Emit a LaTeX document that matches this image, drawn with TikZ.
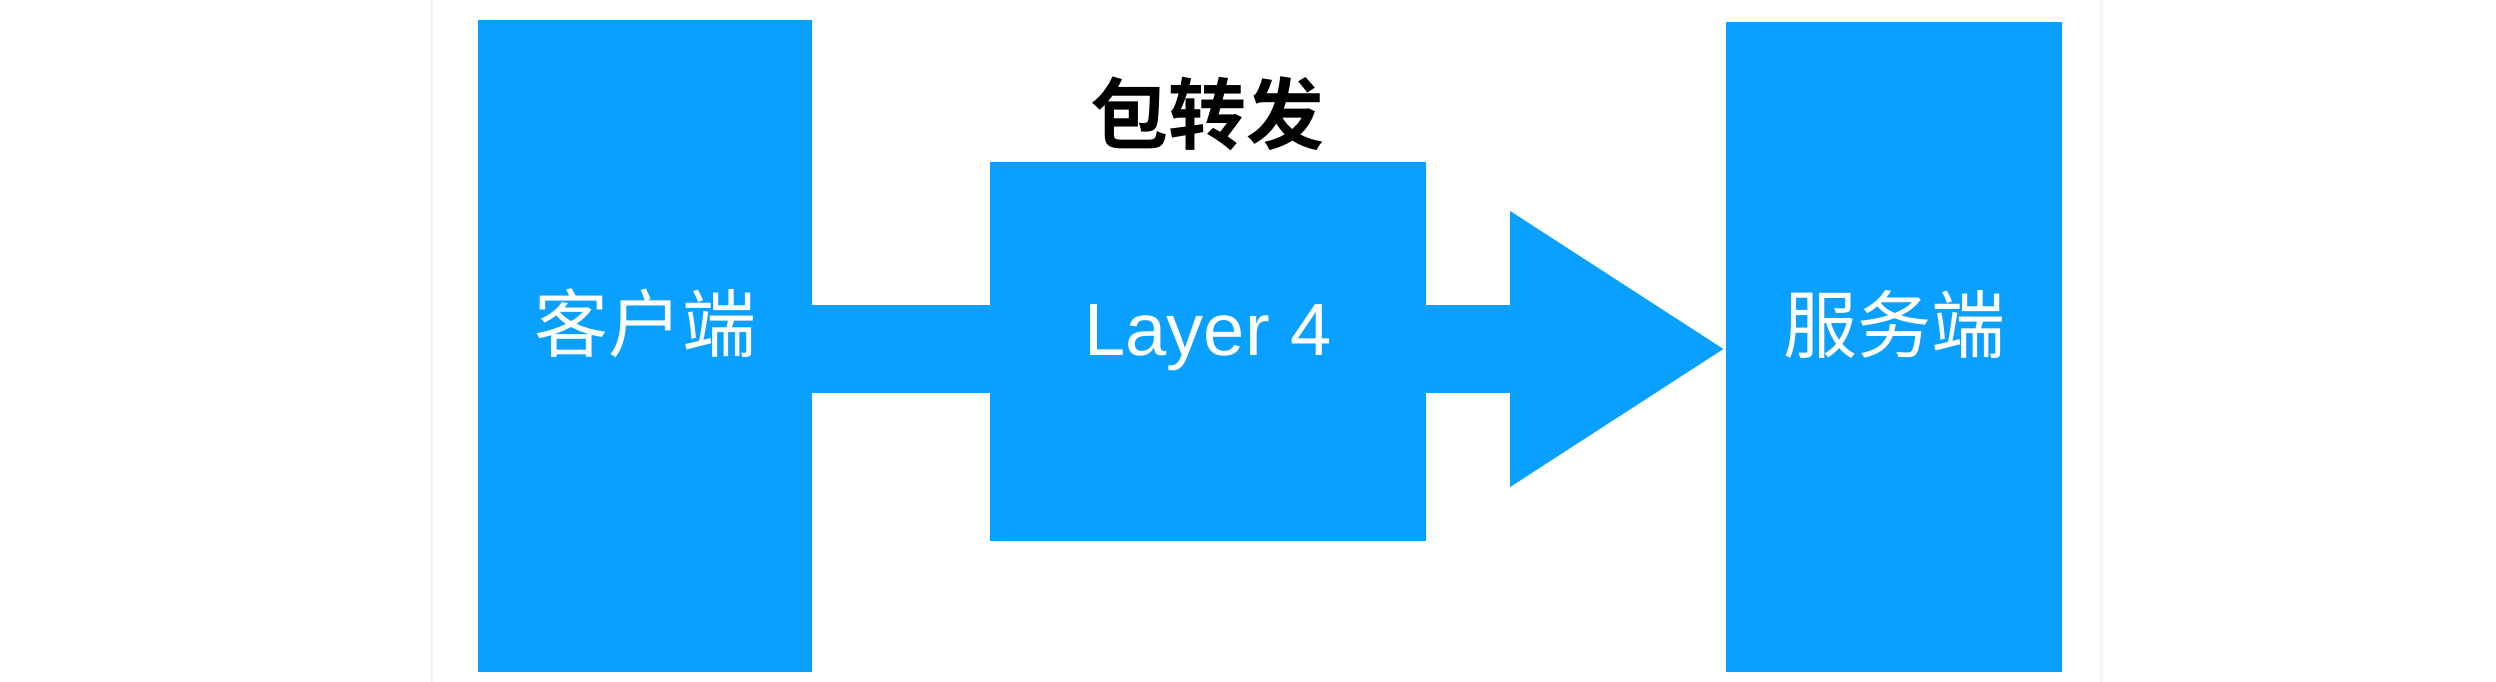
\documentclass[tikz,border=0pt]{standalone}
\usepackage{fontspec}
\setmainfont{Liberation Sans}
\newfontfamily\cjk{Noto Sans CJK SC}[BoldFont={Noto Sans CJK SC Bold}]
\usetikzlibrary{arrows.meta}
\definecolor{boxblue}{RGB}{10,160,255}
\begin{document}
\begin{tikzpicture}[x=1pt,y=-1pt,
  bluebox/.style={fill=boxblue,inner sep=0pt,outer sep=0pt,text=white,
    text height=1.06em,text depth=0pt,font=\cjk\fontsize{74}{80}\selectfont},
  pipe/.style={draw=boxblue,line width=88pt}]

\useasboundingbox (0,0) rectangle (2496,682);
\fill[white] (0,0) rectangle (2496,682);
% card edges
\draw[gray!8,line width=3pt] (431,0) -- (431,682);
\draw[gray!8,line width=3pt] (2101,0) -- (2101,682);

\node[bluebox,minimum width=334pt,minimum height=651pt] (client) at (645,346) {客户端};
\node[bluebox,minimum width=436pt,minimum height=379pt,text height=0.9em,
  font=\fontsize{74}{80}\selectfont] (layer) at (1208,351) {Layer 4};
\node[bluebox,minimum width=336pt,minimum height=650pt] (server) at (1894,347) {服务端};

\node[font=\cjk\bfseries\fontsize{78}{84}\selectfont] (title) at (1207,114) {包转发};

\draw[pipe] (client.east |- 0,349) -- (layer.west |- 0,349);
\draw[pipe,-{Triangle[length=216pt,width=260pt]}] (layer.east |- 0,349) -- (server.west |- 0,349);
\end{tikzpicture}
\end{document}
